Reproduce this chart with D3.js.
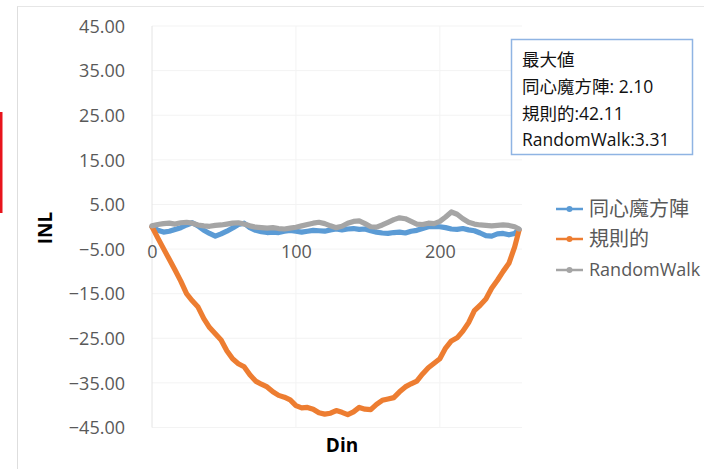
<!DOCTYPE html>
<html>
<head>
<meta charset="utf-8">
<script src="https://cdn.jsdelivr.net/npm/d3@7"></script>
<style>
html,body{margin:0;padding:0;background:#fff;}
svg{display:block;}
</style>
</head>
<body>
<svg id="chart" width="704" height="469"></svg>
<script>
// ---- data ----
const din = [0,4,8,12,16,20,24,28,32,36,40,44,48,52,56,60,64,68,72,76,80,84,88,92,96,100,104,108,112,116,120,124,128,132,136,140,144,148,152,156,160,164,168,172,176,180,184,188,192,196,200,204,208,212,216,220,224,228,232,236,240,244,248,252,255];
const concentric = [0,-0.8,-1.2,-1.0,-0.6,-0.2,0.4,0.9,0.2,-0.8,-1.5,-2.1,-1.6,-1.0,-0.3,0.5,0.8,-0.2,-0.8,-1.1,-1.3,-1.2,-1.3,-1.0,-0.8,-1.0,-1.2,-1.0,-0.8,-0.9,-1.0,-0.7,-0.5,-0.7,-0.5,-0.4,-0.6,-0.5,-0.9,-1.2,-1.4,-1.5,-1.3,-1.2,-1.4,-1.0,-0.8,-0.4,0.0,0.1,0.0,-0.2,-0.5,-0.6,-0.4,-0.7,-0.9,-1.4,-2.0,-2.1,-1.6,-1.5,-1.8,-1.5,-0.6];
const regular = [0,-2.5,-4.9,-7.3,-9.7,-12.2,-15.0,-16.6,-18.0,-20.6,-22.6,-24.0,-25.4,-27.8,-29.6,-30.7,-31.4,-33.2,-34.6,-35.3,-35.9,-37.0,-37.8,-38.2,-38.8,-40.1,-40.6,-40.5,-40.9,-41.7,-42.0,-41.8,-41.2,-41.6,-42.11,-41.5,-40.5,-40.9,-41.0,-39.8,-38.9,-38.6,-38.3,-37.0,-35.9,-35.2,-34.6,-33.0,-31.6,-30.6,-29.6,-27.2,-25.6,-24.9,-23.4,-21.5,-18.8,-17.6,-16.2,-13.8,-12.0,-10.0,-8.2,-4.5,-0.8];
const randomWalk = [0.2,0.5,0.7,0.8,0.6,0.9,1.0,0.8,0.4,0.2,0.1,0.3,0.4,0.6,0.8,0.9,0.6,0.2,-0.1,-0.2,-0.3,-0.2,-0.4,-0.5,-0.3,-0.1,0.2,0.5,0.8,1.0,0.7,0.2,-0.2,0.1,0.8,1.2,1.3,0.7,0.0,-0.1,0.4,1.0,1.6,2.0,1.8,1.2,0.6,0.5,0.8,0.7,1.2,2.2,3.31,2.8,1.8,1.0,0.6,0.4,0.3,0.2,0.3,0.4,0.3,0.0,-0.5];
const seriesNames = ["同心魔方陣","規則的","RandomWalk"];
const seriesColors = ["#5B9BD5","#ED7D31","#A5A5A5"];
const yTicks = [45,35,25,15,5,-5,-15,-25,-35,-45];
const xTicks = [0,100,200];
const noteLines = ["最大値","同心魔方陣: 2.10","規則的:42.11","RandomWalk:3.31"];

// ---- layout ----
const svg = d3.select("#chart");
const x = d3.scaleLinear().domain([0,255]).range([152,519]);
const y = d3.scaleLinear().domain([-45,45]).range([427.5,26]);
const font = "'Open Sans','Noto Sans CJK TC',sans-serif";

// outer chart border and red marker
svg.append("line").attr("x1",17.5).attr("x2",17.5).attr("y1",6).attr("y2",469).attr("stroke","#dedede");
svg.append("line").attr("x1",17.5).attr("x2",704).attr("y1",6.5).attr("y2",6.5).attr("stroke","#e6e6e6");
svg.append("rect").attr("x",0).attr("y",112).attr("width",2.5).attr("height",101).attr("fill","#e8141c");

// gridlines
const grid = svg.append("g");
grid.selectAll("line.h").data(yTicks).join("line")
  .attr("x1",152).attr("x2",522).attr("y1",d=>y(d)).attr("y2",d=>y(d))
  .attr("stroke","#f3f3f3").attr("stroke-width",1);
grid.selectAll("line.v").data(xTicks.slice(1)).join("line")
  .attr("x1",d=>x(d)).attr("x2",d=>x(d)).attr("y1",y(45)).attr("y2",y(-45))
  .attr("stroke","#f3f3f3").attr("stroke-width",1);
svg.append("line").attr("x1",152).attr("x2",152).attr("y1",y(45)).attr("y2",y(-45)).attr("stroke","#e4e4e4");

// y axis labels
const yAxis = d3.axisLeft(y).tickValues(yTicks).tickFormat(d3.format(".2f")).tickSize(0).tickPadding(0);
const yg = svg.append("g").attr("transform","translate(125,0)").call(yAxis);
yg.select(".domain").remove();
yg.selectAll("text").attr("font-family",font).attr("font-size",18).attr("fill","#595959").attr("dy","0.35em");

// x axis labels
const xAxis = d3.axisBottom(x).tickValues(xTicks).tickFormat(d3.format("d")).tickSize(0).tickPadding(0);
const xg = svg.append("g").attr("transform","translate(0,244)").call(xAxis);
xg.select(".domain").remove();
xg.selectAll("text").attr("font-family",font).attr("font-size",18).attr("fill","#595959").attr("dy","0.75em");

// series
const allSeries = [concentric, regular, randomWalk];
const line = d3.line().x((d,i)=>x(din[i])).y(d=>y(d)).curve(d3.curveLinear);
allSeries.forEach((s,k)=>{
  svg.append("path").datum(s).attr("d",line)
    .attr("fill","none").attr("stroke",seriesColors[k]).attr("stroke-width",5.2)
    .attr("stroke-linejoin","round").attr("stroke-linecap","round");
});

// axis titles
svg.append("text").attr("transform","translate(52,228) rotate(-90)").attr("text-anchor","middle")
  .attr("font-family",font).attr("font-size",19).attr("font-weight","bold").attr("fill","#000").text("INL");
svg.append("text").attr("x",342).attr("y",452).attr("text-anchor","middle")
  .attr("font-family",font).attr("font-size",19).attr("font-weight","bold").attr("fill","#000").text("Din");

// legend
const legY = [209,239,270];
seriesNames.forEach((n,k)=>{
  const g = svg.append("g");
  g.append("line").attr("x1",556).attr("x2",583).attr("y1",legY[k]).attr("y2",legY[k])
    .attr("stroke",seriesColors[k]).attr("stroke-width",2.5);
  g.append("circle").attr("cx",569.5).attr("cy",legY[k]).attr("r",3).attr("fill",seriesColors[k]);
  g.append("text").attr("x",589).attr("y",legY[k]).attr("dy","0.35em")
    .attr("font-family",font).attr("font-size",/[A-Za-z]/.test(n)?18:20).attr("fill","#595959").text(n);
});

// annotation box
svg.append("rect").attr("x",511.5).attr("y",39.5).attr("width",181).attr("height",115)
  .attr("fill","#fff").attr("stroke","#8fb4e3").attr("stroke-width",1.5);
const noteY = [60,87,114,140];
noteLines.forEach((t,i)=>{
  svg.append("text").attr("x",522).attr("y",noteY[i]).attr("dy","0.35em")
    .attr("font-family",font).attr("font-size",17.5).attr("fill","#111").text(t);
});
</script>
</body>
</html>
